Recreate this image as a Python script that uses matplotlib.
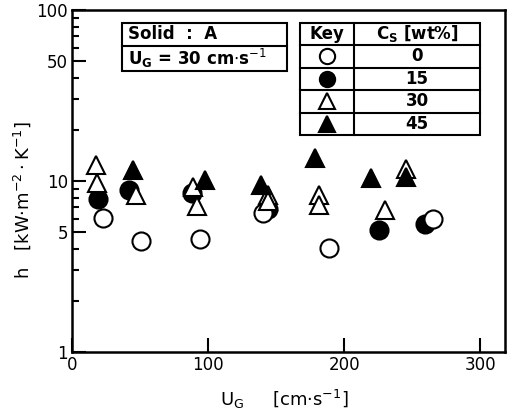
import numpy as np
import matplotlib
matplotlib.use("Agg")
import matplotlib.pyplot as plt
from matplotlib.patches import Rectangle
from matplotlib.lines import Line2D

# h vs U_G
ug_0 = [22.5, 51, 94, 140, 189, 265]
h_0 = [6.05, 4.46, 4.6, 6.5, 4.04, 5.97]

ug_15 = [18.9, 42, 87.8, 144, 225.5, 259]
h_15 = [7.8, 8.9, 8.5, 6.9, 5.17, 5.6]

ug_30 = [17.4, 18.6, 47, 88.5, 92, 144, 144, 181.4, 181.4, 229.6, 245.5]
h_30 = [12.4, 9.7, 8.3, 9.2, 7.1, 8.3, 7.6, 8.3, 7.25, 6.77, 11.7]

ug_45 = [45, 98, 138.7, 178.8, 219.8, 245.5]
h_45 = [11.6, 10.1, 9.5, 13.6, 10.4, 10.6]

cs_labels = ["0", "15", "30", "45"]

W, H = 513, 417
fig = plt.figure(figsize=(W/100, H/100), dpi=100)
ax = fig.add_axes([72/W, 1 - 352/H, 433/W, 342/H])

ms = 13
ax.plot(ug_15, h_15, 'o', ms=ms, mfc='black', mec='black', mew=1.5, zorder=3)
ax.plot(ug_0, h_0, 'o', ms=ms, mfc='white', mec='black', mew=1.5, zorder=4)
ax.plot(ug_30, h_30, '^', ms=ms, mfc='white', mec='black', mew=1.5, zorder=5)
ax.plot(ug_45, h_45, '^', ms=ms, mfc='black', mec='black', mew=1.5, zorder=6)

ax.set_yscale('log')
ax.set_xlim(0, 318)
ax.set_ylim(1, 100)
ax.set_xticks([0, 100, 200, 300])
ax.set_yticks([1, 5, 10, 50, 100])
ax.set_yticklabels(["1", "5", "10", "50", "100"])
ax.yaxis.set_minor_locator(matplotlib.ticker.LogLocator(subs=np.arange(2, 10)))
ax.yaxis.set_minor_formatter(matplotlib.ticker.NullFormatter())
ax.tick_params(which='both', direction='in', width=1.5, labelsize=12, pad=3)
ax.tick_params(which='major', length=10)
ax.tick_params(which='minor', length=5)
for s in ax.spines.values():
    s.set_linewidth(1.8)

ax.set_ylabel(r"h   [kW$\cdot$m$^{-2}\cdot$K$^{-1}$]", fontsize=13)
ax.yaxis.set_label_coords(-0.09, 0.444)
ax.set_xlabel(r"U$_\mathregular{G}$     [cm$\cdot$s$^{-1}$]", fontsize=13)
ax.xaxis.set_label_coords(0.49, -0.105)


def px(x, y):
    return x / W, 1 - y / H


def box(x0, y0, x1, y1):
    fx, fy = px(x0, y1)
    fig.patches.append(Rectangle((fx, fy), (x1 - x0) / W, (y1 - y0) / H,
                                 transform=fig.transFigure, fill=False,
                                 lw=1.5, ec='black'))


def hline(x0, x1, y):
    a, b = px(x0, y)
    c, _ = px(x1, y)
    fig.lines.append(Line2D([a, c], [b, b], transform=fig.transFigure, lw=1.5, color='black'))


def vline(x, y0, y1):
    a, b = px(x, y0)
    _, d = px(x, y1)
    fig.lines.append(Line2D([a, a], [b, d], transform=fig.transFigure, lw=1.5, color='black'))


# caixa Solid
box(122, 23, 287, 71)
hline(122, 287, 46)
fig.text(*px(128, 34), "Solid  :  A", fontsize=12, fontweight='bold', va='center')
fig.text(*px(128, 58), r"U$_\mathregular{G}$ = 30 cm$\cdot$s$^{-1}$", fontsize=12,
         fontweight='bold', va='center')

# tabela Key
box(300, 23, 480, 135)
vline(354, 23, 135)
row_y = [23, 45, 67.5, 90, 112.5, 135]
for yy in row_y[1:-1]:
    hline(300, 480, yy)
fig.text(*px(327, 34), "Key", fontsize=12, fontweight='bold', ha='center', va='center')
fig.text(*px(417, 34), r"C$_\mathregular{S}$ [wt%]", fontsize=12, fontweight='bold',
         ha='center', va='center')
styles = [('o', 'white'), ('o', 'black'), ('^', 'white'), ('^', 'black')]
for i, lab in enumerate(cs_labels):
    yc = (row_y[i + 1] + row_y[i + 2]) / 2
    mk, fc = styles[i]
    a, b = px(327, yc)
    fig.lines.append(Line2D([a], [b], transform=fig.transFigure, marker=mk, ms=11,
                            mfc=fc, mec='black', mew=1.5, ls='none'))
    fig.text(a + 90 / W, b, lab, fontsize=12, fontweight='bold', ha='center', va='center')

fig.savefig("out.png", dpi=100)
